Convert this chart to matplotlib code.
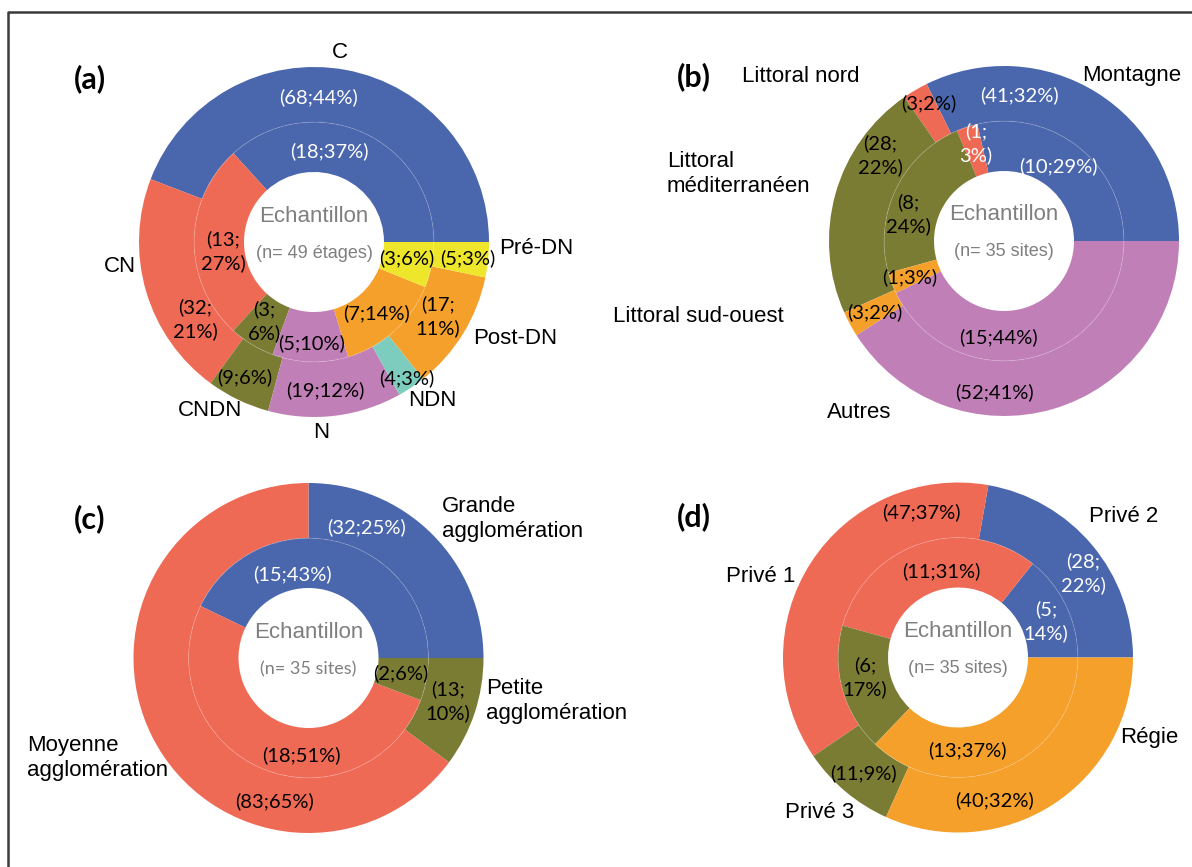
import matplotlib.pyplot as plt
from matplotlib.patches import Circle

W, H = 1192, 867
R = 175          # outer radius in pixels
MID = 0.685      # boundary between the two rings
HOLE = 0.40      # centre hole

BLUE, RED, OLIVE = '#4A66AC', '#EF6A55', '#7A7C33'
PURPLE, TEAL, ORANGE, YELLOW = '#C17FB7', '#7DCDBE', '#F5A02B', '#EDE62A'

# (a) étages : outer = all, inner = sample
a_cats = ['C', 'CN', 'CNDN', 'N', 'NDN', 'Post-DN', 'Pré-DN']
a_out_n = [68, 32, 9, 19, 4, 17, 5]
a_out_pct = [44, 21, 6, 12, 3, 11, 3]
a_in_n = [18, 13, 3, 5, 0, 7, 3]
a_in_pct = [37, 27, 6, 10, 0, 14, 6]

# (b) localisation
b_cats = ['Montagne', 'Littoral nord', 'Littoral\nméditerranéen', 'Littoral sud-ouest', 'Autres']
b_out_n = [41, 3, 28, 3, 52]
b_out_pct = [32, 2, 22, 2, 41]
b_in_n = [10, 1, 8, 1, 15]
b_in_pct = [29, 3, 24, 3, 44]

# (c) taille d'agglomération
c_cats = ['Grande\nagglomération', 'Moyenne\nagglomération', 'Petite\nagglomération']
c_out_n = [32, 83, 13]
c_out_pct = [25, 65, 10]
c_in_n = [15, 18, 2]
c_in_pct = [43, 51, 6]

# (d) gestion
d_cats = ['Privé 2', 'Privé 1', 'Privé 3', 'Régie']
d_out_n = [28, 47, 11, 40]
d_out_pct = [22, 37, 9, 32]
d_in_n = [5, 11, 6, 13]
d_in_pct = [14, 31, 17, 37]

# layout (pixel positions): (x, y, wrapped, white)
panels = [
    dict(letter='(a)', lpos=(90, 79), center=(314, 242), sub='(n= 49 étages)', sub_font='Liberation Sans',
         colors=[BLUE, RED, OLIVE, PURPLE, TEAL, ORANGE, YELLOW],
         cats=a_cats, out_n=a_out_n, out_pct=a_out_pct, in_n=a_in_n, in_pct=a_in_pct,
         out_pos=[(319, 97, 0, 1), (195, 319, 1, 0), (245, 377, 0, 0), (325, 390, 0, 0),
                  (407, 378, 0, 0), (438, 316, 1, 0), (468, 258, 0, 0)],
         in_pos=[(329, 151, 0, 1), (223, 251, 1, 0), (264, 321, 1, 0), (312, 343, 0, 0),
                 None, (377, 313, 0, 0), (407, 258, 0, 0)],
         cat_pos=[(340, 53, 'center'), (120, 267, 'center'), (210, 411, 'center'), (321, 432, 'center'),
                  (432, 400, 'center'), (515, 338, 'center'), (536, 248, 'center')]),
    dict(letter='(b)', lpos=(694, 77), center=(1004, 241), sub='(n= 35 sites)', sub_font='Liberation Sans',
         colors=[BLUE, RED, OLIVE, ORANGE, PURPLE],
         cats=b_cats, out_n=b_out_n, out_pct=b_out_pct, in_n=b_in_n, in_pct=b_in_pct,
         out_pos=[(1019, 95, 0, 1), (929, 103, 0, 0), (880, 155, 1, 0), (875, 312, 0, 0), (994, 392, 0, 0)],
         in_pos=[(1058, 166, 0, 1), (976, 143, 1, 1), (908, 214, 1, 0), (910, 277, 0, 0), (998, 337, 0, 0)],
         cat_pos=[(1132, 75, 'center'), (801, 77, 'center'), (667, 174, 'left'), (613, 316, 'left'),
                  (859, 412, 'center')]),
    dict(letter='(c)', lpos=(90, 519), center=(308.5, 658), sub='(n= 35 sites)', sub_font='Lato',
         colors=[BLUE, RED, OLIVE],
         cats=c_cats, out_n=c_out_n, out_pct=c_out_pct, in_n=c_in_n, in_pct=c_in_pct,
         out_pos=[(366, 527, 0, 1), (275, 801, 0, 0), (448, 701, 1, 0)],
         in_pos=[(292, 574, 0, 1), (301, 755, 0, 0), (401, 673, 0, 0)],
         cat_pos=[(442, 519, 'left'), (27, 758, 'left'), (486, 701, 'left')]),
    dict(letter='(d)', lpos=(694, 517), center=(958, 657.5), sub='(n= 35 sites)', sub_font='Liberation Sans',
         colors=[BLUE, RED, OLIVE, ORANGE],
         cats=d_cats, out_n=d_out_n, out_pct=d_out_pct, in_n=d_in_n, in_pct=d_in_pct,
         out_pos=[(1083, 573, 1, 1), (921, 512, 0, 0), (863, 773, 0, 0), (994, 800, 0, 0)],
         in_pos=[(1046, 621, 1, 1), (941, 571, 0, 0), (865, 677, 1, 0), (967, 750, 0, 0)],
         cat_pos=[(1124, 517, 'center'), (761, 577, 'center'), (820, 812, 'center'), (1149, 737, 'center')]),
]


def fmt(n, p, wrap):
    return f'({n};\n{p}%)' if wrap else f'({n};{p}%)'


fig = plt.figure(figsize=(W / 100, H / 100), dpi=100)

for p in panels:
    cx, cy = p['center']
    ax = fig.add_axes([(cx - 1.25 * R) / W, (H - cy - 1.25 * R) / H, 2.5 * R / W, 2.5 * R / H])
    ax.pie(p['out_n'], radius=1, colors=p['colors'], startangle=0, counterclock=True,
           wedgeprops=dict(width=1 - MID, linewidth=0))
    ax.pie(p['in_n'], radius=MID, colors=p['colors'], startangle=0, counterclock=True,
           wedgeprops=dict(width=MID - HOLE, linewidth=0))
    ax.add_patch(Circle((0, 0), MID, fill=False, ec='white', lw=0.7, alpha=0.15))
    ax.set_xlim(-1.25, 1.25)
    ax.set_ylim(-1.25, 1.25)

# text overlay in pixel coordinates
tx = fig.add_axes([0, 0, 1, 1])
tx.set_xlim(0, W)
tx.set_ylim(H, 0)
tx.axis('off')
tx.patch.set_alpha(0)

# frame
tx.plot([8, 8, W], [H, 12, 12], color='#3a3a3a', lw=1.8, clip_on=False)

for p in panels:
    cx, cy = p['center']
    tx.text(*p['lpos'], p['letter'], fontsize=22, fontweight='bold', family='Lato',
            ha='center', va='center')
    tx.text(cx, cy - 26, 'Echantillon', fontsize=16, family='Liberation Sans', color='#7f7f7f',
            ha='center', va='center')
    tx.text(cx, cy + 11, p['sub'], fontsize=13, family=p['sub_font'], color='#7f7f7f',
            ha='center', va='center')
    for vals, pcts, pos in ((p['out_n'], p['out_pct'], p['out_pos']), (p['in_n'], p['in_pct'], p['in_pos'])):
        for n, pc, ps in zip(vals, pcts, pos):
            if ps is None:
                continue
            x, y, wrap, white = ps
            tx.text(x, y, fmt(n, pc, wrap), fontsize=14.5, family='Lato', linespacing=1.4,
                    color='white' if white else 'black', ha='center', va='center')
    for name, (x, y, ha) in zip(p['cats'], p['cat_pos']):
        tx.text(x, y, name, fontsize=16, family='Liberation Sans', ha=ha, va='center',
                linespacing=1.2)

fig.savefig('out.png', dpi=100)
